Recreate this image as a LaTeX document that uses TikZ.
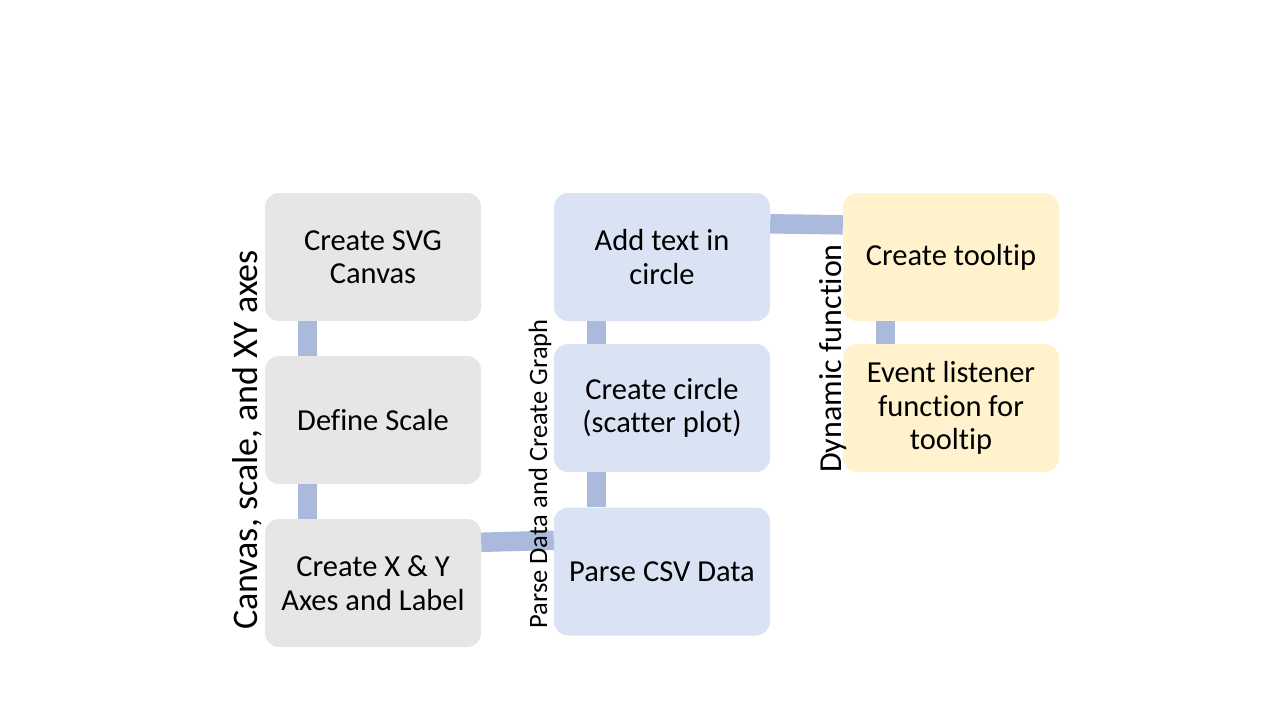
\documentclass[tikz,border=0pt]{standalone}
\usepackage{fontspec}
\setmainfont{Carlito}[Ligatures=CommonOff]
\usepackage{xcolor}
\usepackage{tikz}
\usetikzlibrary{positioning,calc}

\definecolor{greybox}{HTML}{E7E6E6}
\definecolor{bluebox}{HTML}{DAE3F3}
\definecolor{yellowbox}{HTML}{FFF2CC}
\definecolor{connblue}{HTML}{ABB9DD}

\tikzset{
    stepbox/.style={rounded corners=14pt, minimum width=216pt, minimum height=128pt,
        align=center, font=\fontsize{30.5}{33.5}\selectfont, inner sep=0pt},
    conn/.style={connblue, line width=19.5pt},
    sidelabel/.style={rotate=90, inner sep=0pt}
}

\begin{document}
\begin{tikzpicture}[x=1pt, y=-1pt]
    \useasboundingbox (0,0) rectangle (1280,720);

    % Canvas, scale and axes
    \node[stepbox, fill=greybox] (svg) at (373,257) {Create SVG\\Canvas};
    \node[stepbox, fill=greybox] (scale) at (373,420) {Define Scale};
    \node[stepbox, fill=greybox] (axes) at (373,583) {Create X \& Y\\Axes and Label};

    % Parse data and graph
    \node[stepbox, fill=bluebox] (addtext) at (662,257) {Add text in\\circle};
    \node[stepbox, fill=bluebox] (circle) at (662,408) {Create circle\\(scatter plot)};
    \node[stepbox, fill=bluebox] (csv) at (662,571.5) {Parse CSV Data};

    % Dynamic function
    \node[stepbox, fill=yellowbox] (tooltip) at (951,257) {Create tooltip};
    \node[stepbox, fill=yellowbox] (listener) at (951,408) {Event listener\\function for\\tooltip};

    % connectors
    \draw[conn] ([xshift=42.5pt]svg.south west) -- ([xshift=42.5pt]scale.north west);
    \draw[conn] ([xshift=42.5pt]scale.south west) -- ([xshift=42.5pt]axes.north west);
    \draw[conn] ([yshift=-23.5pt]axes.north east) -- ([yshift=-33pt]csv.north west);
    \draw[conn] ([xshift=42.5pt]csv.north west) -- ([xshift=42.5pt]circle.south west);
    \draw[conn] ([xshift=42.5pt]circle.north west) -- ([xshift=42.5pt]addtext.south west);
    \draw[conn] ([yshift=-31pt]addtext.north east) -- ([yshift=-32pt]tooltip.north west);
    \draw[conn] ([xshift=42.5pt]tooltip.south west) -- ([xshift=42.5pt]listener.north west);

    % group labels
    \node[sidelabel, font=\fontsize{36}{40}\selectfont] (canvaslabel) at (247,440) {Canvas, scale, and XY axes};
    \node[sidelabel, font=\fontsize{26.5}{30}\selectfont] (parselabel) at (540,474) {Parse Data and Create Graph};
    \node[sidelabel, font=\fontsize{32}{36}\selectfont] (dynlabel) at (833,358.5) {Dynamic function};
\end{tikzpicture}
\end{document}
